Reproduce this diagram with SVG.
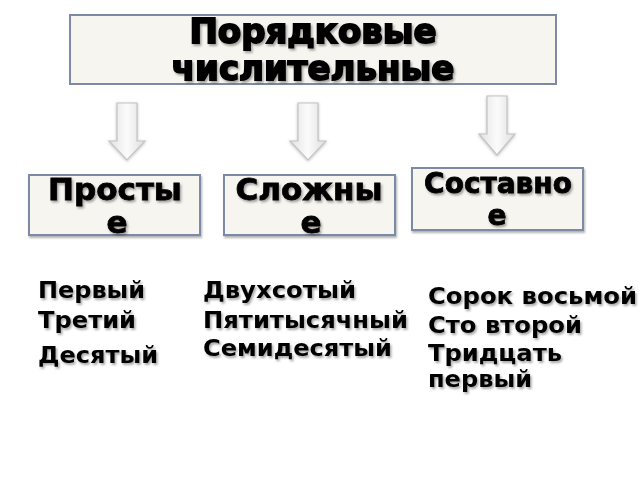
<svg xmlns="http://www.w3.org/2000/svg" width="640" height="480" viewBox="0 0 640 480">
  <defs>
    <filter id="ts" x="-10%" y="-20%" width="130%" height="150%">
      <feDropShadow dx="1.5" dy="2" stdDeviation="1" flood-color="#000" flood-opacity="0.35"/>
    </filter>
    <filter id="bs" x="-5%" y="-10%" width="115%" height="130%">
      <feDropShadow dx="1" dy="2" stdDeviation="1" flood-color="#555" flood-opacity="0.45"/>
    </filter>
    <filter id="as" x="-30%" y="-10%" width="160%" height="130%">
      <feDropShadow dx="0" dy="1" stdDeviation="1.5" flood-color="#888" flood-opacity="0.5"/>
    </filter>
    <linearGradient id="ag" x1="0" y1="0" x2="1" y2="0">
      <stop offset="0" stop-color="#e2e2e2"/>
      <stop offset="0.5" stop-color="#fbfbfb"/>
      <stop offset="1" stop-color="#dedede"/>
    </linearGradient>
  </defs>
  <style>
    .box { fill: #f6f5f0; stroke: #7d8aa6; stroke-width: 2; }
    .t { font-family: "DejaVu Sans", "Noto Sans", sans-serif; font-weight: bold; fill: #000; }
    .title { font-size: 34px; stroke: #000; stroke-width: 1.8; text-anchor: middle; }
    .head { font-size: 31px; stroke: #000; stroke-width: 0.8; text-anchor: middle; }
    .item { font-size: 23px; }
    .arrow { fill: url(#ag); stroke: #c4c4c4; stroke-width: 1.2; }
  </style>
  <rect width="640" height="480" fill="#ffffff"/>

  <g id="title">
    <rect class="box" x="70" y="15" width="486" height="69"/>
    <text class="t title" x="313" y="43" filter="url(#ts)">Порядковые</text>
    <text class="t title" x="313" y="80" filter="url(#ts)">числительные</text>
  </g>

  <g id="connectors" filter="url(#as)">
    <path class="arrow" d="M117,103 H137 V141 H145 L127,160 L109,141 H117 Z"/>
    <path class="arrow" d="M298,103 H318 V141 H326 L308,160 L290,141 H298 Z"/>
    <path class="arrow" d="M487,96 H507 V134 H515 L497,155 L479,134 H487 Z"/>
  </g>

  <g id="simple">
    <rect class="box" x="29" y="175" width="171" height="60" filter="url(#bs)"/>
    <text class="t head" x="115" y="200" filter="url(#ts)">Просты</text>
    <text class="t head" x="117" y="233" filter="url(#ts)">е</text>
  </g>

  <g id="complex">
    <rect class="box" x="224" y="175" width="171" height="60" filter="url(#bs)"/>
    <text class="t head" x="309" y="200" filter="url(#ts)">Сложны</text>
    <text class="t head" x="311" y="233" filter="url(#ts)">е</text>
  </g>

  <g id="compound">
    <rect class="box" x="412" y="168" width="171" height="62" filter="url(#bs)"/>
    <text class="t head" x="498" y="193" style="font-size:28px" filter="url(#ts)">Составно</text>
    <text class="t head" x="497" y="225" style="font-size:28px" filter="url(#ts)">е</text>
  </g>

  <g id="list-simple" filter="url(#ts)">
    <text class="t item" x="38" y="298" textLength="107" lengthAdjust="spacingAndGlyphs">Первый</text>
    <text class="t item" x="38" y="328" textLength="98" lengthAdjust="spacingAndGlyphs">Третий</text>
    <text class="t item" x="38" y="363" textLength="120" lengthAdjust="spacingAndGlyphs">Десятый</text>
  </g>

  <g id="list-complex" filter="url(#ts)">
    <text class="t item" x="203" y="298" textLength="153" lengthAdjust="spacingAndGlyphs">Двухсотый</text>
    <text class="t item" x="203" y="328" textLength="205" lengthAdjust="spacingAndGlyphs">Пятитысячный</text>
    <text class="t item" x="203" y="356" textLength="189" lengthAdjust="spacingAndGlyphs">Семидесятый</text>
  </g>

  <g id="list-compound" filter="url(#ts)">
    <text class="t item" x="428" y="304" textLength="209" lengthAdjust="spacingAndGlyphs">Сорок восьмой</text>
    <text class="t item" x="428" y="333" textLength="154" lengthAdjust="spacingAndGlyphs">Сто второй</text>
    <text class="t item" x="428" y="361" textLength="134" lengthAdjust="spacingAndGlyphs">Тридцать</text>
    <text class="t item" x="428" y="387" textLength="104" lengthAdjust="spacingAndGlyphs">первый</text>
  </g>
</svg>
